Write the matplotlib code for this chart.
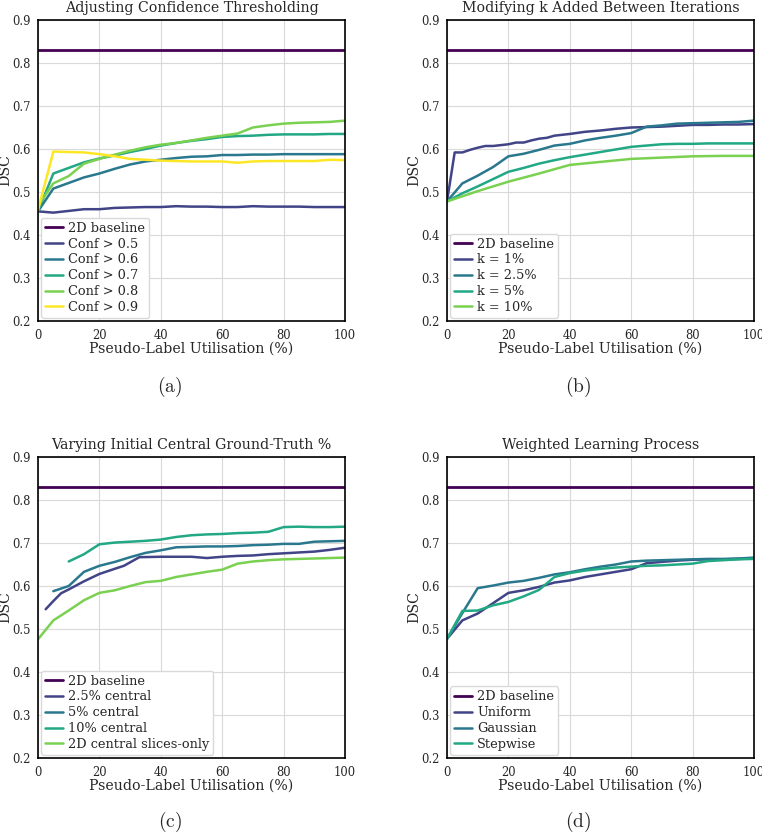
import numpy as np
import matplotlib
matplotlib.use('Agg')
import matplotlib.pyplot as plt
import seaborn as sns

sns.set_style('whitegrid', {'axes.edgecolor': 'black', 'grid.color': '0.85'})
plt.rcParams['font.family'] = ['DejaVu Serif']
plt.rcParams['mathtext.fontset'] = 'cm'

baseline = 0.83
colours = plt.cm.viridis(np.linspace(0, 1, 6))

# (a) confidence thresholding
x_conf = [0, 5, 10, 15, 20, 25, 30, 35, 40, 45, 50, 55, 60, 65, 70, 75, 80, 85, 90, 95, 100]
conf_05 = [0.455, 0.452, 0.456, 0.460, 0.460, 0.463, 0.464, 0.465, 0.465, 0.467, 0.466,
           0.466, 0.465, 0.465, 0.467, 0.466, 0.466, 0.466, 0.465, 0.465, 0.465]
conf_06 = [0.455, 0.508, 0.521, 0.534, 0.543, 0.554, 0.564, 0.571, 0.575, 0.579, 0.582,
           0.583, 0.586, 0.586, 0.587, 0.587, 0.588, 0.588, 0.588, 0.588, 0.588]
conf_07 = [0.455, 0.543, 0.556, 0.569, 0.578, 0.585, 0.593, 0.600, 0.608, 0.614, 0.619,
           0.623, 0.628, 0.630, 0.631, 0.633, 0.634, 0.634, 0.634, 0.635, 0.635]
conf_08 = [0.468, 0.520, 0.537, 0.566, 0.577, 0.587, 0.596, 0.604, 0.610, 0.614, 0.620,
           0.626, 0.631, 0.636, 0.650, 0.655, 0.659, 0.661, 0.662, 0.663, 0.666]
conf_09 = [0.458, 0.594, 0.593, 0.592, 0.588, 0.583, 0.577, 0.575, 0.573, 0.572, 0.571,
           0.571, 0.571, 0.568, 0.571, 0.572, 0.572, 0.572, 0.572, 0.575, 0.574]

# (b) k added between iterations
x_k1 = [0, 2.5, 5, 7.5, 10, 12.5, 15, 17.5, 20, 22.5, 25, 27.5, 30, 32.5, 35, 40,
        45, 50, 55, 60, 65, 70, 75, 80, 85, 90, 95, 100]
k_1 = [0.478, 0.592, 0.592, 0.598, 0.603, 0.607, 0.607, 0.609, 0.611, 0.615, 0.615,
       0.620, 0.624, 0.626, 0.631, 0.635, 0.640, 0.643, 0.647, 0.650, 0.651, 0.652,
       0.654, 0.656, 0.656, 0.657, 0.657, 0.658]
x_k = [0, 5, 10, 15, 20, 25, 30, 35, 40, 45, 50, 55, 60, 65, 70, 75, 80, 85, 90, 95, 100]
k_25 = [0.478, 0.520, 0.538, 0.558, 0.583, 0.589, 0.598, 0.608, 0.612, 0.620, 0.626,
        0.631, 0.637, 0.652, 0.655, 0.659, 0.660, 0.661, 0.662, 0.663, 0.666]
k_5 = [0.478, 0.497, 0.513, 0.530, 0.547, 0.556, 0.566, 0.574, 0.581, 0.587, 0.593,
       0.599, 0.605, 0.608, 0.611, 0.612, 0.612, 0.613, 0.613, 0.613, 0.613]
x_k10 = [0, 10, 20, 30, 40, 50, 60, 70, 80, 90, 100]
k_10 = [0.478, 0.502, 0.524, 0.543, 0.563, 0.570, 0.577, 0.580, 0.583, 0.584, 0.584]

# (c) initial central ground-truth %
x_c25 = [2.5, 5, 7.5, 10, 15, 20, 25, 28, 33, 40, 45, 50, 55, 60, 65, 70, 75, 80,
         85, 90, 95, 100]
c_25 = [0.546, 0.565, 0.583, 0.592, 0.611, 0.628, 0.640, 0.647, 0.667, 0.668, 0.668,
        0.668, 0.665, 0.668, 0.670, 0.671, 0.674, 0.676, 0.678, 0.680, 0.684, 0.689]
x_c5 = [5, 10, 15, 20, 25, 30, 35, 40, 45, 50, 55, 60, 65, 70, 75, 80, 85, 90, 95, 100]
c_5 = [0.588, 0.600, 0.633, 0.647, 0.656, 0.667, 0.677, 0.683, 0.690, 0.691, 0.692,
       0.692, 0.693, 0.695, 0.696, 0.698, 0.698, 0.703, 0.704, 0.705]
x_c10 = [10, 15, 20, 25, 30, 35, 40, 45, 50, 55, 60, 65, 70, 75, 80, 85, 90, 95, 100]
c_10 = [0.657, 0.674, 0.697, 0.701, 0.703, 0.705, 0.708, 0.714, 0.718, 0.720, 0.721,
        0.723, 0.724, 0.726, 0.737, 0.738, 0.737, 0.737, 0.738]
x_c2d = [0, 5, 10, 15, 20, 25, 30, 35, 40, 45, 50, 55, 60, 65, 70, 75, 80, 85, 90, 95, 100]
c_2d = [0.476, 0.520, 0.543, 0.567, 0.584, 0.590, 0.600, 0.609, 0.612, 0.621, 0.627,
        0.633, 0.638, 0.652, 0.657, 0.660, 0.662, 0.663, 0.664, 0.665, 0.666]

# (d) weighted learning
x_w = [0, 5, 10, 15, 20, 25, 30, 35, 40, 45, 50, 55, 60, 65, 70, 75, 80, 85, 90, 95, 100]
uniform = [0.477, 0.520, 0.536, 0.560, 0.584, 0.590, 0.598, 0.608, 0.613, 0.621, 0.627,
           0.633, 0.639, 0.653, 0.656, 0.659, 0.661, 0.662, 0.662, 0.663, 0.664]
gaussian = [0.477, 0.537, 0.595, 0.601, 0.608, 0.612, 0.619, 0.627, 0.632, 0.639, 0.645,
            0.650, 0.657, 0.659, 0.660, 0.661, 0.662, 0.663, 0.663, 0.664, 0.666]
stepwise = [0.477, 0.542, 0.543, 0.555, 0.563, 0.576, 0.591, 0.621, 0.630, 0.636, 0.640,
            0.643, 0.645, 0.647, 0.648, 0.650, 0.652, 0.658, 0.660, 0.662, 0.663]

panels = [
    ('Adjusting Confidence Thresholding', '(a)',
     [(x_conf, conf_05, 'Conf > 0.5'), (x_conf, conf_06, 'Conf > 0.6'),
      (x_conf, conf_07, 'Conf > 0.7'), (x_conf, conf_08, 'Conf > 0.8'),
      (x_conf, conf_09, 'Conf > 0.9')]),
    ('Modifying k Added Between Iterations', '(b)',
     [(x_k1, k_1, 'k = 1%'), (x_k, k_25, 'k = 2.5%'), (x_k, k_5, 'k = 5%'),
      (x_k10, k_10, 'k = 10%')]),
    ('Varying Initial Central Ground-Truth %', '(c)',
     [(x_c25, c_25, '2.5% central'), (x_c5, c_5, '5% central'),
      (x_c10, c_10, '10% central'), (x_c2d, c_2d, '2D central slices-only')]),
    ('Weighted Learning Process', '(d)',
     [(x_w, uniform, 'Uniform'), (x_w, gaussian, 'Gaussian'), (x_w, stepwise, 'Stepwise')]),
]

W, H = 762, 834
fig = plt.figure(figsize=(W / 100, H / 100), dpi=100)
lefts = [38, 447]
tops = [20, 457]
aw, ah = 307, 301
cap_x = [170, 578]
cap_y = [387, 822]

for i, (title, cap, series) in enumerate(panels):
    col, row = i % 2, i // 2
    ax = fig.add_axes([lefts[col] / W, 1 - (tops[row] + ah) / H, aw / W, ah / H])
    ax.axhline(baseline, color=colours[0], lw=2, label='2D baseline')
    for j, (xs, ys, lab) in enumerate(series):
        ax.plot(xs, ys, color=colours[j + 1], lw=1.8, label=lab)
    ax.set_xlim(0, 100)
    ax.set_ylim(0.2, 0.9)
    ax.set_xticks(range(0, 101, 20))
    ax.set_yticks(np.arange(0.2, 0.91, 0.1))
    ax.tick_params(labelsize=8.3, pad=2, colors='0.15')
    for s in ax.spines.values():
        s.set_linewidth(1.2)
        s.set_color('black')
    ax.set_title(title, fontsize=10.2, color='0.15', pad=6)
    ax.set_xlabel('Pseudo-Label Utilisation (%)', fontsize=10.2, color='0.15', labelpad=0)
    ax.set_ylabel('DSC', fontsize=10.2, color='0.15', labelpad=0)
    leg = ax.legend(loc='lower left', fontsize=9.3, labelspacing=0.22, handlelength=1.4,
                    handletextpad=0.4, borderpad=0.3, borderaxespad=0.25, framealpha=1,
                    fancybox=True)
    leg.get_frame().set_edgecolor('0.85')
    for t in leg.get_texts():
        t.set_color('0.15')
    fig.text(cap_x[col] / W, 1 - cap_y[row] / H, r'$\mathrm{' + cap + '}$',
             ha='center', va='center', fontsize=14)

fig.savefig('out.png', dpi=100)
